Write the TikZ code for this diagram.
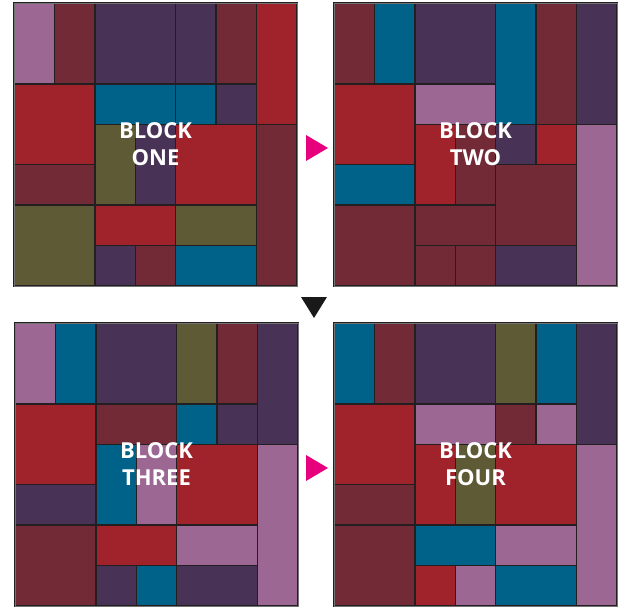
\documentclass[tikz,border=0pt]{standalone}
\usepackage{fontspec}
\setmainfont{Open Sans}
\definecolor{lav}{HTML}{9C6793}
\definecolor{mar}{HTML}{732A37}
\definecolor{dpu}{HTML}{483255}
\definecolor{tea}{HTML}{006289}
\definecolor{red}{HTML}{A0222A}
\definecolor{oli}{HTML}{5E5A36}
\definecolor{linec}{HTML}{231F20}
\definecolor{mag}{HTML}{E6007E}
\tikzset{
  cellbox/.style={draw=linec, line width=1.5pt},
  frame/.style={draw=black!55, line width=0.8pt},
  lbl/.style={text=white, align=center, font=\bfseries\fontsize{22}{26.5}\selectfont, inner sep=0pt},
}
\newcommand\cel[5]{\filldraw[cellbox, fill=#5] (#1,#2) rectangle (#3,#4);}
\begin{document}
\begin{tikzpicture}[x=1pt,y=-1pt]
\useasboundingbox (0,0) rectangle (623,609);
% BLOCK ONE
\begin{scope}[shift={(14,3)}, x=40.43pt, y=-40.43pt]
\cel{0}{0}{1}{2}{lav}\cel{1}{0}{2}{2}{mar}\cel{2}{0}{4}{2}{dpu}\cel{4}{0}{5}{2}{dpu}\cel{5}{0}{6}{2}{mar}\cel{6}{0}{7}{3}{red}
\cel{0}{2}{2}{4}{red}\cel{2}{2}{4}{3}{tea}\cel{4}{2}{5}{3}{tea}\cel{5}{2}{6}{3}{dpu}
\cel{2}{3}{3}{5}{oli}\cel{3}{3}{4}{5}{dpu}\cel{4}{3}{6}{5}{red}\cel{6}{3}{7}{7}{mar}
\cel{0}{4}{2}{5}{mar}\cel{0}{5}{2}{7}{oli}\cel{2}{5}{4}{6}{red}\cel{4}{5}{6}{6}{oli}
\cel{2}{6}{3}{7}{dpu}\cel{3}{6}{4}{7}{mar}\cel{4}{6}{6}{7}{tea}
\draw[frame] (0,0) rectangle (7,7);
\end{scope}
% BLOCK TWO
\begin{scope}[shift={(334,3)}, x=40.43pt, y=-40.43pt]
\cel{0}{0}{1}{2}{mar}\cel{1}{0}{2}{2}{tea}\cel{2}{0}{4}{2}{dpu}\cel{4}{0}{5}{3}{tea}\cel{5}{0}{6}{3}{mar}\cel{6}{0}{7}{3}{dpu}
\cel{0}{2}{2}{4}{red}\cel{2}{2}{4}{3}{lav}
\cel{2}{3}{3}{5}{red}\cel{3}{3}{4}{5}{mar}\cel{4}{3}{5}{4}{dpu}\cel{5}{3}{6}{4}{red}\cel{6}{3}{7}{7}{lav}
\cel{0}{4}{2}{5}{tea}\cel{4}{4}{6}{6}{mar}
\cel{0}{5}{2}{7}{mar}\cel{2}{5}{4}{6}{mar}
\cel{2}{6}{3}{7}{mar}\cel{3}{6}{4}{7}{mar}\cel{4}{6}{6}{7}{dpu}
\draw[frame] (0,0) rectangle (7,7);
\end{scope}
% BLOCK THREE
\begin{scope}[shift={(15,323)}, x=40.43pt, y=-40.43pt]
\cel{0}{0}{1}{2}{lav}\cel{1}{0}{2}{2}{tea}\cel{2}{0}{4}{2}{dpu}\cel{4}{0}{5}{2}{oli}\cel{5}{0}{6}{2}{mar}\cel{6}{0}{7}{3}{dpu}
\cel{0}{2}{2}{4}{red}\cel{2}{2}{4}{3}{mar}\cel{4}{2}{5}{3}{tea}\cel{5}{2}{6}{3}{dpu}
\cel{2}{3}{3}{5}{tea}\cel{3}{3}{4}{5}{lav}\cel{4}{3}{6}{5}{red}\cel{6}{3}{7}{7}{lav}
\cel{0}{4}{2}{5}{dpu}\cel{0}{5}{2}{7}{mar}\cel{2}{5}{4}{6}{red}\cel{4}{5}{6}{6}{lav}
\cel{2}{6}{3}{7}{dpu}\cel{3}{6}{4}{7}{tea}\cel{4}{6}{6}{7}{dpu}
\draw[frame] (0,0) rectangle (7,7);
\end{scope}
% BLOCK FOUR
\begin{scope}[shift={(334,323)}, x=40.43pt, y=-40.43pt]
\cel{0}{0}{1}{2}{tea}\cel{1}{0}{2}{2}{mar}\cel{2}{0}{4}{2}{dpu}\cel{4}{0}{5}{2}{oli}\cel{5}{0}{6}{2}{tea}\cel{6}{0}{7}{3}{dpu}
\cel{0}{2}{2}{4}{red}\cel{2}{2}{4}{3}{lav}\cel{4}{2}{5}{3}{mar}\cel{5}{2}{6}{3}{lav}
\cel{2}{3}{3}{5}{red}\cel{3}{3}{4}{5}{oli}\cel{4}{3}{6}{5}{red}\cel{6}{3}{7}{7}{lav}
\cel{0}{4}{2}{5}{mar}\cel{0}{5}{2}{7}{mar}\cel{2}{5}{4}{6}{tea}\cel{4}{5}{6}{6}{lav}
\cel{2}{6}{3}{7}{red}\cel{3}{6}{4}{7}{lav}\cel{4}{6}{6}{7}{tea}
\draw[frame] (0,0) rectangle (7,7);
\end{scope}
% labels
\node[lbl] (t1) at (155.5,144) {BLOCK\\ONE};
\node[lbl] (t2) at (475.5,144) {BLOCK\\TWO};
\node[lbl] (t3) at (156.5,464) {BLOCK\\THREE};
\node[lbl] (t4) at (475.5,464) {BLOCK\\FOUR};
% arrows
\fill[mag] (306,135) -- (328,148) -- (306,161) -- cycle;
\fill[mag] (306,455) -- (328,468) -- (306,481) -- cycle;
\fill[black!90] (301,297) -- (327,297) -- (314,318) -- cycle;
\end{tikzpicture}
\end{document}
